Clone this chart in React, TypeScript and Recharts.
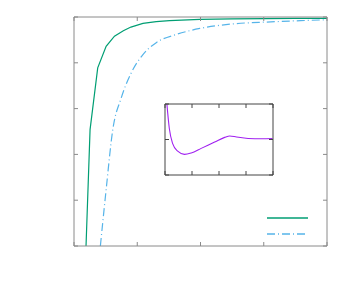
import { LineChart, Line, XAxis, YAxis, Legend } from 'recharts';

// main plot: two rising curves
const greenX = [0.19, 0.254, 0.375, 0.508, 0.64, 0.78, 0.9, 1.09, 1.3, 1.51, 1.99, 2.5, 3.0, 3.5, 4.0];
const greenY = [0, 2.54, 3.89, 4.36, 4.58, 4.7, 4.78, 4.86, 4.9, 4.92, 4.95, 4.96, 4.965, 4.97, 4.97];
const blueX = [0.417, 0.508, 0.613, 0.746, 0.905, 1.09, 1.3, 1.62, 1.99, 2.52, 3.05, 3.58, 4.0];
const blueY = [0, 1.23, 2.54, 3.23, 3.78, 4.18, 4.44, 4.62, 4.75, 4.85, 4.89, 4.92, 4.94];
const mainXTicks = [0, 1, 2, 3, 4];
const mainYTicks = [0, 1, 2, 3, 4, 5];

// inset: damped oscillation
const insetX = [0.07, 0.16, 0.28, 0.47, 0.72, 0.97, 1.34, 1.84, 2.21, 2.4, 2.65, 3.08, 3.58, 3.98];
const insetY = [1.0, 0.31, -0.11, -0.33, -0.42, -0.38, -0.25, -0.07, 0.06, 0.1, 0.07, 0.03, 0.02, 0.03];
const insetXTicks = [0, 1, 2, 3, 4];
const insetYTicks = [-1, 0, 1];

const green = '#009e73';
const blue = '#56b4e9';
const purple = '#a020f0';
const dashDot = '8 3 1 3';

const greenData = greenX.map((x, i) => ({ x, y: greenY[i] }));
const blueData = blueX.map((x, i) => ({ x, y: blueY[i] }));
const insetData = insetX.map((x, i) => ({ x, y: insetY[i] }));

const box = { position: 'absolute' as const, left: 0, top: 0 };

function KeySamples() {
  return (
    <svg width={50} height={28} style={{ display: 'block' }}>
      <line x1={1} x2={42} y1={4} y2={4} stroke={green} strokeWidth={1.3} />
      <line x1={1} x2={40} y1={20} y2={20} stroke={blue} strokeWidth={1.3} strokeDasharray={dashDot} />
    </svg>
  );
}

function Frame({ color, xTicks, yTicks, xDomain, yDomain }: any) {
  const common = {
    stroke: color,
    tickFormatter: () => '',
    tickLine: { stroke: color },
    tickSize: 4,
    mirror: true,
    allowDataOverflow: true,
  };
  return [
    <XAxis key="xb" xAxisId={0} type="number" dataKey="x" domain={xDomain} ticks={xTicks} orientation="bottom" {...common} />,
    <XAxis key="xt" xAxisId="top" type="number" dataKey="x" domain={xDomain} ticks={xTicks} orientation="top" {...common} />,
    <YAxis key="yl" yAxisId={0} type="number" dataKey="y" domain={yDomain} ticks={yTicks} orientation="left" {...common} />,
    <YAxis key="yr" yAxisId="right" type="number" dataKey="y" domain={yDomain} ticks={yTicks} orientation="right" {...common} />,
  ];
}

export default function App() {
  return (
    <div style={{ position: 'absolute', left: 0, top: 0, width: 354, height: 295, background: '#fff' }}>
      <div style={box}>
        <LineChart width={354} height={295} margin={{ left: 74, top: 17, right: 27, bottom: 21 }}>
          {Frame({ color: '#8a8a8a', xTicks: mainXTicks, yTicks: mainYTicks, xDomain: [0, 4], yDomain: [0, 5] })}
          <Line data={greenData} dataKey="y" type="linear" stroke={green} strokeWidth={1.2} dot={false} isAnimationActive={false} />
          <Line data={blueData} dataKey="y" type="monotone" stroke={blue} strokeWidth={1.2} strokeDasharray={dashDot} dot={false} isAnimationActive={false} />
          <Legend content={() => <KeySamples />} wrapperStyle={{ position: 'absolute', left: 266, top: 214, width: 50, height: 28 }} />
        </LineChart>
      </div>
      <div style={box}>
        <LineChart width={354} height={295} margin={{ left: 165, top: 104, right: 81, bottom: 120 }}>
          {Frame({ color: '#444', xTicks: insetXTicks, yTicks: insetYTicks, xDomain: [0, 4], yDomain: [-1, 1] })}
          <Line data={insetData} dataKey="y" type="monotone" stroke={purple} strokeWidth={1.1} dot={false} isAnimationActive={false} />
        </LineChart>
      </div>
    </div>
  );
}
